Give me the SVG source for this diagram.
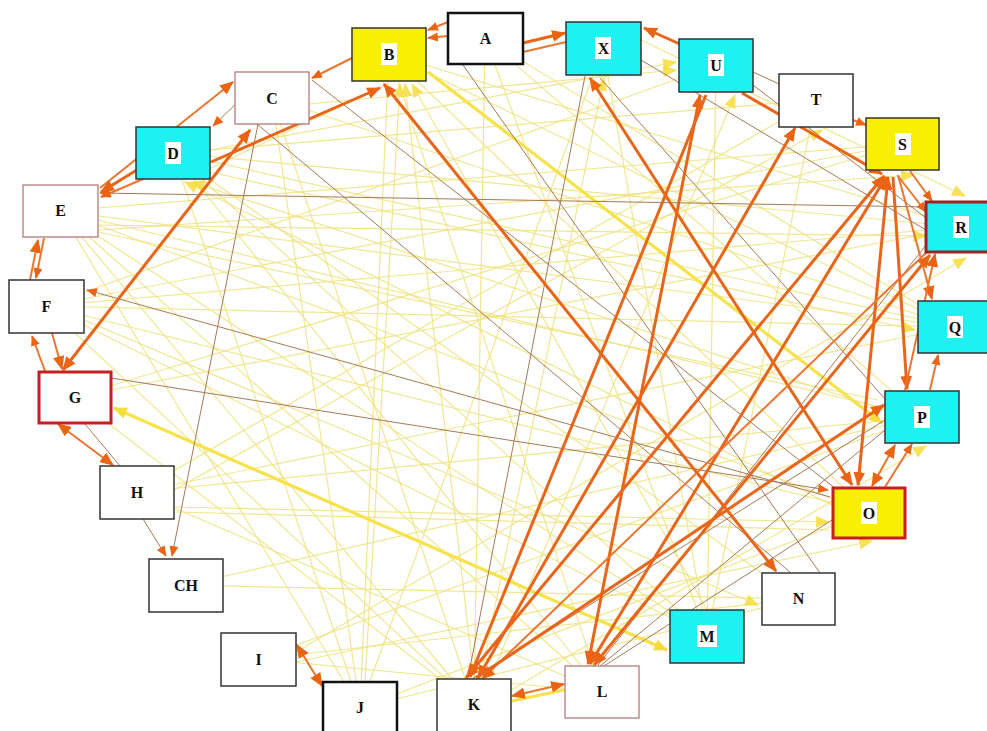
<svg xmlns="http://www.w3.org/2000/svg" width="987" height="731" viewBox="0 0 987 731">
<defs>
<style>
.e line{fill:none}
.o3{stroke:#e8651a;stroke-width:3}
.o2{stroke:#ea7630;stroke-width:2}
.br{stroke:#a87a55;stroke-width:1}
.y3{stroke:#f6e24a;stroke-width:3.2}
.y1{stroke:#efe27e;stroke-width:1.2;opacity:.85}
.node rect.box{stroke:#333;stroke-width:1.5}
.w{fill:#ffffff}
.c{fill:#1ff0f0}
.y{fill:#f8f000}
.thick{stroke:#111 !important;stroke-width:2.5 !important}
.red{stroke:#c61f1f !important;stroke-width:3 !important}
.dred{stroke:#9a2424 !important;stroke-width:3 !important}
.pink{stroke:#b07070 !important;stroke-width:1.2 !important}
.lb{fill:#ffffff}
.node text{font-family:"Liberation Serif","Times New Roman",serif;font-weight:bold;font-size:16px;text-anchor:middle;fill:#111}
</style>
<marker id="ao" viewBox="0 0 12 10" refX="11" refY="5" markerWidth="14" markerHeight="12" markerUnits="userSpaceOnUse" orient="auto-start-reverse"><path d="M0,0 L12,5 L0,10 z" fill="#ea6414"/></marker>
<marker id="as" viewBox="0 0 12 10" refX="11" refY="5" markerWidth="11" markerHeight="9" markerUnits="userSpaceOnUse" orient="auto-start-reverse"><path d="M0,0 L12,5 L0,10 z" fill="#ea6414"/></marker>
<marker id="ay" viewBox="0 0 12 10" refX="11" refY="5" markerWidth="14" markerHeight="12" markerUnits="userSpaceOnUse" orient="auto-start-reverse"><path d="M0,0 L12,5 L0,10 z" fill="#f5dc3a"/></marker>
</defs>
<rect width="987" height="731" fill="#ffffff"/>
<g id="connectors" class="e">
<!-- light yellow background lines -->
<line class="y1" x1="389" y1="54" x2="869" y2="512"/>
<line class="y1" x1="389" y1="54" x2="962" y2="227"/>
<line class="y1" x1="389" y1="54" x2="955" y2="327"/>
<line class="y1" x1="389" y1="54" x2="602" y2="692"/>
<line class="y1" x1="389" y1="54" x2="360" y2="708"/>
<line class="y1" x1="485" y1="38" x2="922" y2="417"/>
<line class="y1" x1="485" y1="38" x2="955" y2="327"/>
<line class="y1" x1="485" y1="38" x2="707" y2="636"/>
<line class="y1" x1="485" y1="38" x2="474" y2="705"/>
<line class="y1" x1="603" y1="48" x2="707" y2="636"/>
<line class="y1" x1="603" y1="48" x2="360" y2="708"/>
<line class="y1" x1="716" y1="65" x2="46" y2="306"/>
<line class="y1" x1="716" y1="65" x2="707" y2="636"/>
<line class="y1" x1="816" y1="100" x2="137" y2="492"/>
<line class="y1" x1="816" y1="100" x2="707" y2="636"/>
<line class="y1" x1="816" y1="100" x2="173" y2="153"/>
<line class="y1" x1="902" y1="144" x2="60" y2="211"/>
<line class="y1" x1="902" y1="144" x2="74" y2="397"/>
<line class="y1" x1="902" y1="144" x2="46" y2="306"/>
<line class="y1" x1="962" y1="227" x2="46" y2="306"/>
<line class="y1" x1="962" y1="227" x2="74" y2="397"/>
<line class="y1" x1="962" y1="227" x2="173" y2="153"/>
<line class="y1" x1="955" y1="327" x2="60" y2="211"/>
<line class="y1" x1="955" y1="327" x2="46" y2="306"/>
<line class="y1" x1="955" y1="327" x2="173" y2="153"/>
<line class="y1" x1="955" y1="327" x2="137" y2="492"/>
<line class="y1" x1="955" y1="327" x2="272" y2="98"/>
<line class="y1" x1="922" y1="417" x2="60" y2="211"/>
<line class="y1" x1="922" y1="417" x2="137" y2="492"/>
<line class="y1" x1="922" y1="417" x2="186" y2="585"/>
<line class="y1" x1="869" y1="512" x2="60" y2="211"/>
<line class="y1" x1="869" y1="512" x2="46" y2="306"/>
<line class="y1" x1="798" y1="599" x2="173" y2="153"/>
<line class="y1" x1="798" y1="599" x2="186" y2="585"/>
<line class="y1" x1="707" y1="636" x2="173" y2="153"/>
<line class="y1" x1="707" y1="636" x2="60" y2="211"/>
<line class="y1" x1="707" y1="636" x2="46" y2="306"/>
<line class="y1" x1="602" y1="692" x2="173" y2="153"/>
<line class="y1" x1="602" y1="692" x2="137" y2="492"/>
<line class="y1" x1="602" y1="692" x2="60" y2="211"/>
<line class="y1" x1="602" y1="692" x2="258" y2="659"/>
<line class="y1" x1="474" y1="705" x2="272" y2="98"/>
<line class="y1" x1="474" y1="705" x2="60" y2="211"/>
<line class="y1" x1="474" y1="705" x2="74" y2="397"/>
<line class="y1" x1="474" y1="705" x2="46" y2="306"/>
<line class="y1" x1="360" y1="708" x2="60" y2="211"/>
<line class="y1" x1="360" y1="708" x2="173" y2="153"/>
<line class="y1" x1="360" y1="708" x2="272" y2="98"/>
<line class="y1" x1="360" y1="708" x2="869" y2="512"/>
<line class="y1" x1="360" y1="708" x2="798" y2="599"/>
<line class="y1" x1="258" y1="659" x2="798" y2="599"/>
<line class="y1" x1="258" y1="659" x2="922" y2="417"/>
<line class="y1" x1="98" y1="225" x2="926" y2="236" marker-end="url(#ay)"/>
<line class="y1" x1="707" y1="610" x2="412" y2="84" marker-end="url(#ay)"/>
<line class="y1" x1="474" y1="679" x2="405" y2="84" marker-end="url(#ay)"/>
<line class="y1" x1="365" y1="682" x2="400" y2="84" marker-end="url(#ay)"/>
<line class="y1" x1="480" y1="679" x2="604" y2="78" marker-end="url(#ay)"/>
<line class="y1" x1="210" y1="150" x2="676" y2="62" marker-end="url(#ay)"/>
<line class="y1" x1="309" y1="104" x2="676" y2="70" marker-end="url(#ay)"/>
<line class="y1" x1="490" y1="679" x2="735" y2="95" marker-end="url(#ay)"/>
<line class="y1" x1="174" y1="490" x2="822" y2="130" marker-end="url(#ay)"/>
<line class="y1" x1="832" y1="505" x2="185" y2="182" marker-end="url(#ay)"/>
<line class="y1" x1="885" y1="410" x2="192" y2="182" marker-end="url(#ay)"/>
<line class="y1" x1="641" y1="40" x2="965" y2="196" marker-end="url(#ay)"/>
<line class="y1" x1="296" y1="652" x2="966" y2="258" marker-end="url(#ay)"/>
<line class="y1" x1="176" y1="507" x2="829" y2="522" marker-end="url(#ay)"/>
<line class="y1" x1="176" y1="512" x2="829" y2="530" />
<line class="y1" x1="296" y1="662" x2="872" y2="541" marker-end="url(#ay)"/>
<line class="y1" x1="511" y1="690" x2="926" y2="446" marker-end="url(#ay)"/>
<line class="y1" x1="84" y1="320" x2="758" y2="605" marker-end="url(#ay)"/>
<line class="y1" x1="98" y1="230" x2="914" y2="175" marker-end="url(#ay)"/>
<line class="y1" x1="210" y1="172" x2="915" y2="330" marker-end="url(#ay)"/>
<line class="y1" x1="98" y1="232" x2="878" y2="400" />
<line class="y1" x1="211" y1="168" x2="384" y2="86"/>
<!-- thick yellow -->
<line class="y3" x1="114" y1="408" x2="667" y2="650" marker-start="url(#ay)" marker-end="url(#ay)"/>
<line class="y3" x1="428" y1="72" x2="882" y2="423" marker-end="url(#ay)"/>
<line class="y3" x1="512" y1="701" x2="564" y2="690"/>
<!-- thin brown -->
<line class="br" x1="753" y1="72" x2="779" y2="84"/>
<line class="br" x1="85" y1="424" x2="120" y2="466"/>
<line class="br" x1="143" y1="519" x2="166" y2="556" marker-end="url(#as)"/>
<line class="br" x1="258" y1="124" x2="172" y2="556" marker-end="url(#as)"/>
<line class="br" x1="111" y1="378" x2="828" y2="490" marker-end="url(#as)"/>
<line class="br" x1="830" y1="497" x2="87" y2="290" marker-end="url(#as)"/>
<line class="br" x1="926" y1="207" x2="100" y2="193" marker-end="url(#as)"/>
<line class="br" x1="257" y1="124" x2="790" y2="572"/>
<line class="br" x1="312" y1="80" x2="835" y2="488"/>
<line class="br" x1="463" y1="65" x2="820" y2="573"/>
<line class="br" x1="600" y1="78" x2="886" y2="400"/>
<line class="br" x1="585" y1="76" x2="468" y2="678"/>
<line class="br" x1="885" y1="420" x2="470" y2="680"/>
<line class="br" x1="598" y1="665" x2="926" y2="245"/>
<line class="br" x1="600" y1="666" x2="885" y2="430"/>
<line class="br" x1="604" y1="666" x2="832" y2="520"/>
<line class="br" x1="641" y1="60" x2="926" y2="230"/>
<line class="br" x1="753" y1="85" x2="926" y2="218"/>
<line class="br" x1="240" y1="100" x2="213" y2="126" marker-end="url(#as)"/>
<!-- orange -->
<line class="o3" x1="523" y1="43" x2="565" y2="33" marker-end="url(#ao)"/>
<line class="o2" x1="523" y1="52" x2="566" y2="42"/>
<line class="o2" x1="448" y1="22" x2="428" y2="30" marker-end="url(#as)"/>
<line class="o2" x1="448" y1="36" x2="428" y2="38" marker-end="url(#as)"/>
<line class="o3" x1="682" y1="45" x2="644" y2="28" marker-end="url(#ao)"/>
<line class="o3" x1="742" y1="93" x2="882" y2="174" marker-end="url(#ao)"/>
<line class="o2" x1="853" y1="120" x2="866" y2="125" marker-end="url(#as)"/>
<line class="o2" x1="910" y1="171" x2="932" y2="201" marker-end="url(#as)"/>
<line class="o2" x1="898" y1="176" x2="926" y2="212" marker-end="url(#as)"/>
<line class="o3" x1="466" y1="678" x2="884" y2="176" marker-start="url(#ao)" marker-end="url(#ao)"/>
<line class="o3" x1="590" y1="664" x2="886" y2="177" marker-start="url(#ao)" marker-end="url(#ao)"/>
<line class="o3" x1="888" y1="177" x2="858" y2="485" marker-start="url(#ao)" marker-end="url(#ao)"/>
<line class="o3" x1="893" y1="177" x2="907" y2="389" marker-end="url(#ao)"/>
<line class="o2" x1="898" y1="175" x2="932" y2="299" marker-end="url(#ao)"/>
<line class="o3" x1="590" y1="78" x2="852" y2="485" marker-start="url(#ao)" marker-end="url(#ao)"/>
<line class="o3" x1="700" y1="95" x2="588" y2="664" marker-start="url(#ao)" marker-end="url(#ao)"/>
<line class="o3" x1="706" y1="95" x2="470" y2="677" marker-end="url(#ao)"/>
<line class="o3" x1="795" y1="128" x2="478" y2="678" marker-start="url(#ao)" marker-end="url(#ao)"/>
<line class="o2" x1="927" y1="252" x2="482" y2="679" marker-end="url(#ao)"/>
<line class="o3" x1="930" y1="255" x2="594" y2="665" marker-start="url(#ao)" marker-end="url(#ao)"/>
<line class="o3" x1="476" y1="678" x2="884" y2="405" marker-end="url(#ao)"/>
<line class="o2" x1="872" y1="486" x2="895" y2="445" marker-start="url(#ao)" marker-end="url(#ao)"/>
<line class="o2" x1="885" y1="487" x2="912" y2="444" marker-end="url(#as)"/>
<line class="o2" x1="930" y1="390" x2="938" y2="355" marker-end="url(#as)"/>
<line class="o2" x1="905" y1="390" x2="935" y2="254" marker-end="url(#ao)"/>
<line class="o3" x1="384" y1="84" x2="776" y2="571" marker-start="url(#ao)" marker-end="url(#ao)"/>
<line class="o3" x1="211" y1="162" x2="380" y2="88" marker-end="url(#ao)"/>
<line class="o2" x1="352" y1="58" x2="312" y2="78" marker-end="url(#as)"/>
<line class="o3" x1="63" y1="370" x2="250" y2="130" marker-start="url(#ao)" marker-end="url(#ao)"/>
<line class="o2" x1="100" y1="188" x2="233" y2="82" marker-end="url(#ao)"/>
<line class="o3" x1="140" y1="168" x2="101" y2="192" marker-end="url(#ao)"/>
<line class="o2" x1="150" y1="176" x2="101" y2="197" marker-end="url(#as)"/>
<line class="o2" x1="30" y1="280" x2="38" y2="240" marker-end="url(#ao)"/>
<line class="o2" x1="44" y1="238" x2="36" y2="278" marker-end="url(#as)"/>
<line class="o2" x1="45" y1="371" x2="32" y2="336" marker-end="url(#as)"/>
<line class="o2" x1="52" y1="333" x2="62" y2="369" marker-end="url(#ao)"/>
<line class="o2" x1="58" y1="424" x2="113" y2="465" marker-start="url(#ao)" marker-end="url(#ao)"/>
<line class="o2" x1="297" y1="645" x2="322" y2="686" marker-start="url(#ao)" marker-end="url(#ao)"/>
<line class="o2" x1="512" y1="696" x2="564" y2="684" marker-start="url(#ao)" marker-end="url(#ao)"/>
</g>
<g id="nodes">
<g id="node-A" class="node"><rect class="box w thick" x="448" y="13" width="75" height="51"/><text x="485.5" y="44">A</text></g>
<g id="node-B" class="node"><rect class="box y" x="352" y="28" width="74" height="53"/><rect class="lb" x="381" y="43" width="16" height="22"/><text x="389" y="60">B</text></g>
<g id="node-X" class="node"><rect class="box c" x="566" y="22" width="75" height="53"/><rect class="lb" x="595" y="37" width="16" height="22"/><text x="603.5" y="54">X</text></g>
<g id="node-U" class="node"><rect class="box c" x="679" y="39" width="74" height="53"/><rect class="lb" x="708" y="54" width="16" height="22"/><text x="716" y="71">U</text></g>
<g id="node-T" class="node"><rect class="box w" x="779" y="74" width="74" height="53"/><text x="816" y="105">T</text></g>
<g id="node-S" class="node"><rect class="box y" x="866" y="118" width="73" height="52"/><rect class="lb" x="895" y="133" width="16" height="22"/><text x="902.5" y="150">S</text></g>
<g id="node-R" class="node"><rect class="box c dred" x="926" y="202" width="74" height="50"/><rect class="lb" x="953" y="216" width="16" height="22"/><text x="961" y="233">R</text></g>
<g id="node-Q" class="node"><rect class="box c" x="918" y="301" width="74" height="52"/><rect class="lb" x="947" y="316" width="16" height="22"/><text x="955" y="333">Q</text></g>
<g id="node-P" class="node"><rect class="box c" x="885" y="391" width="74" height="52"/><rect class="lb" x="914" y="406" width="16" height="22"/><text x="922" y="423">P</text></g>
<g id="node-O" class="node"><rect class="box y red" x="833" y="488" width="72" height="50"/><rect class="lb" x="861" y="502" width="16" height="22"/><text x="869" y="519">O</text></g>
<g id="node-N" class="node"><rect class="box w" x="762" y="573" width="73" height="52"/><text x="798.5" y="604">N</text></g>
<g id="node-M" class="node"><rect class="box c" x="670" y="610" width="74" height="53"/><rect class="lb" x="697" y="625" width="20" height="22"/><text x="707" y="642">M</text></g>
<g id="node-L" class="node"><rect class="box w pink" x="565" y="666" width="74" height="52"/><text x="602" y="697">L</text></g>
<g id="node-K" class="node"><rect class="box w" x="437" y="679" width="74" height="56"/><text x="474" y="710">K</text></g>
<g id="node-J" class="node"><rect class="box w thick" x="323" y="682" width="74" height="56"/><text x="360" y="713">J</text></g>
<g id="node-I" class="node"><rect class="box w" x="221" y="633" width="75" height="53"/><text x="258.5" y="665">I</text></g>
<g id="node-CH" class="node"><rect class="box w" x="149" y="559" width="74" height="53"/><text x="186" y="591">CH</text></g>
<g id="node-H" class="node"><rect class="box w" x="100" y="466" width="74" height="53"/><text x="137" y="498">H</text></g>
<g id="node-G" class="node"><rect class="box w red" x="39" y="372" width="72" height="51"/><text x="75" y="403">G</text></g>
<g id="node-F" class="node"><rect class="box w" x="9" y="280" width="75" height="53"/><text x="46.5" y="312">F</text></g>
<g id="node-E" class="node"><rect class="box w pink" x="23" y="185" width="75" height="52"/><text x="60.5" y="216">E</text></g>
<g id="node-D" class="node"><rect class="box c" x="136" y="127" width="74" height="52"/><rect class="lb" x="165" y="142" width="16" height="22"/><text x="173" y="159">D</text></g>
<g id="node-C" class="node"><rect class="box w pink" x="235" y="72" width="74" height="52"/><text x="272" y="104">C</text></g>
</g>
</svg>
